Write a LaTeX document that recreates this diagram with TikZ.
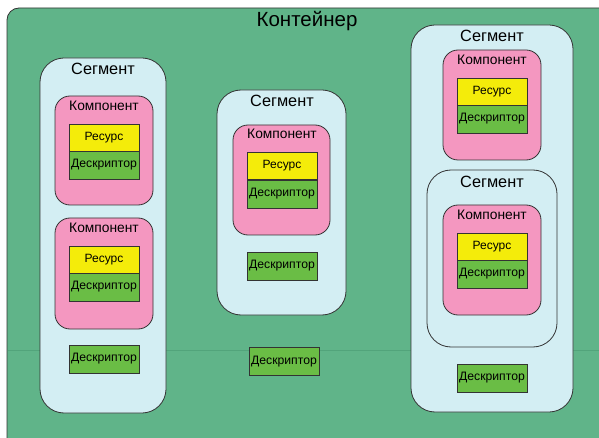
\documentclass[tikz,border=0pt]{standalone}
\usepackage{fontspec}
\setmainfont{Liberation Sans}
\definecolor{contg}{HTML}{60B489}
\definecolor{contline}{HTML}{52A47B}
\definecolor{segc}{HTML}{D3EEF3}
\definecolor{compc}{HTML}{F497C0}
\definecolor{resc}{HTML}{F4EC0A}
\definecolor{descc}{HTML}{6ABD45}
\definecolor{edge}{HTML}{333333}
\begin{document}
\begin{tikzpicture}[x=1pt,y=-1pt,
  cont/.style={draw=edge, fill=contg, line width=0.8pt, rounded corners=12pt},
  seg/.style={draw=edge, fill=segc, line width=0.8pt, rounded corners=24pt},
  comp/.style={draw=edge, fill=compc, line width=0.8pt, rounded corners=15pt},
  res/.style={draw=edge, fill=resc, line width=0.8pt, minimum width=70pt, minimum height=27pt, inner sep=0pt, font=\fontsize{12}{14}\selectfont},
  desc/.style={draw=edge, fill=descc, line width=0.8pt, minimum width=70pt, minimum height=28pt, inner sep=0pt, font=\fontsize{12.2}{14}\selectfont},
  segt/.style={inner sep=0pt, font=\fontsize{16.3}{19}\selectfont},
  compt/.style={inner sep=0pt, font=\fontsize{13.8}{16}\selectfont},
  contt/.style={inner sep=0pt, font=\fontsize{20.5}{24}\selectfont}]
\useasboundingbox (0,0) rectangle (599,438);
% container
\draw[cont] (7,8) rectangle (612,450);
\coordinate (hl) at (8,350);
\coordinate (hr) at (599,350);
\draw[contline, line width=1pt] (hl) -- (hr);
\node[contt] (contT) at (307,21) {Контейнер};
% left segment
\draw[seg] (40,58) rectangle (166,413);
\node[segt] (s1T) at (103,69) {Сегмент};
\draw[comp] (55,96) rectangle (153,205);
\node[compt] (c1T) at (104,106) {Компонент};
\node[res] (r1) at (104,137.5) {Ресурс};
\node[desc] (d1) at (104,165) {Дескриптор};
\draw[comp] (55,218) rectangle (153,329);
\node[compt] (c2T) at (104,228) {Компонент};
\node[res] (r2) at (104,259.5) {Ресурс};
\node[desc] (d2) at (104,287) {Дескриптор};
\node[desc] (d3) at (104,359) {Дескриптор};
% middle segment
\draw[seg] (217,90) rectangle (346,315);
\node[segt] (s2T) at (282,101) {Сегмент};
\draw[comp] (233,125) rectangle (330,235);
\node[compt] (c3T) at (282,134) {Компонент};
\node[res] (r3) at (282,166) {Ресурс};
\node[desc] (d4) at (282,194) {Дескриптор};
\node[desc] (d5) at (282,266) {Дескриптор};
\node[desc] (d6) at (284,361.5) {Дескриптор};
% right segment
\draw[seg] (411,25) rectangle (573,412);
\node[segt] (s3T) at (492,36) {Сегмент};
\draw[comp] (443,50) rectangle (541,160);
\node[compt] (c4T) at (492,60) {Компонент};
\node[res] (r4) at (492,91.5) {Ресурс};
\node[desc] (d7) at (492,119) {Дескриптор};
\draw[seg] (427,170) rectangle (557,347);
\node[segt] (s4T) at (492,182) {Сегмент};
\draw[comp] (443,205) rectangle (541,315);
\node[compt] (c5T) at (492,215) {Компонент};
\node[res] (r5) at (492,246.5) {Ресурс};
\node[desc] (d8) at (492,274) {Дескриптор};
\node[desc] (d9) at (492,378) {Дескриптор};
\end{tikzpicture}
\end{document}
